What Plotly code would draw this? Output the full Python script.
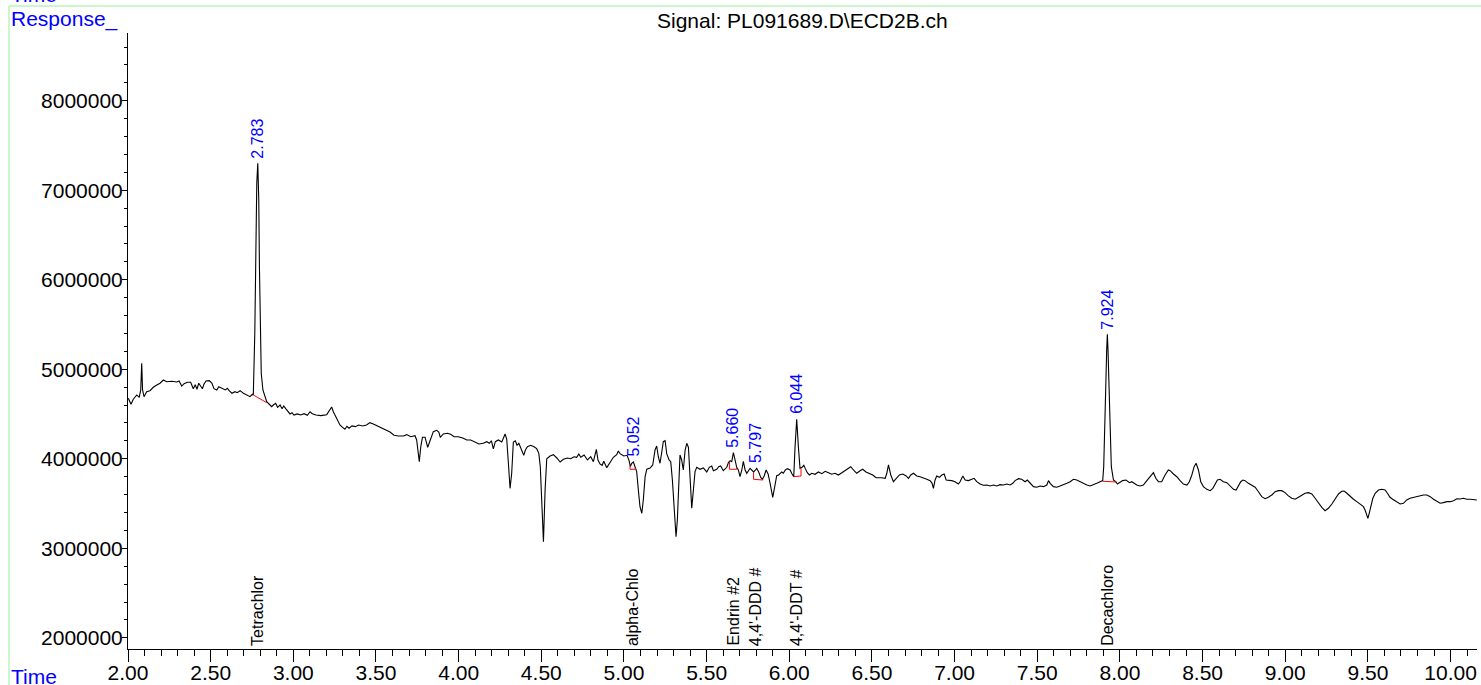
import plotly.graph_objects as go

# ---------------- data ----------------
time_min = [
    2.002, 2.018, 2.032, 2.053, 2.068, 2.077, 2.083, 2.088, 2.097, 2.113,
    2.133, 2.153, 2.174, 2.194, 2.214, 2.234, 2.264, 2.295, 2.309, 2.325,
    2.339, 2.359, 2.379, 2.395, 2.407, 2.417, 2.428, 2.440, 2.450, 2.460,
    2.472, 2.492, 2.508, 2.520, 2.537, 2.549, 2.569, 2.589, 2.601, 2.613,
    2.629, 2.647, 2.661, 2.678, 2.698, 2.722, 2.738, 2.752,
    2.758, 2.767, 2.773, 2.779, 2.785, 2.791, 2.795, 2.800, 2.806, 2.816, 2.839,
    2.859, 2.869, 2.879, 2.893, 2.905, 2.920, 2.932, 2.942, 2.954, 2.966,
    2.980, 2.992, 3.004, 3.024, 3.045, 3.065, 3.085, 3.101, 3.115, 3.137,
    3.166, 3.202, 3.222, 3.232, 3.242, 3.262, 3.282, 3.298, 3.312, 3.324,
    3.337, 3.355, 3.375, 3.395, 3.419, 3.443, 3.463, 3.484, 3.508, 3.544,
    3.585, 3.609, 3.635, 3.666, 3.686, 3.710, 3.736, 3.746, 3.756, 3.762,
    3.771, 3.781, 3.797, 3.813, 3.827, 3.847, 3.867, 3.880, 3.889, 3.907,
    3.932, 3.952, 3.972, 3.998, 4.025, 4.049, 4.073, 4.099, 4.123,
    4.149, 4.170, 4.186, 4.198, 4.210, 4.222, 4.240, 4.261, 4.281, 4.291,
    4.301, 4.311, 4.321, 4.331, 4.343, 4.353, 4.364, 4.373, 4.385, 4.394,
    4.404, 4.416, 4.436, 4.456, 4.472, 4.485, 4.494, 4.503, 4.513, 4.523,
    4.533, 4.553, 4.573, 4.594, 4.614, 4.634, 4.658, 4.678, 4.698, 4.714,
    4.727, 4.739, 4.759, 4.779, 4.799, 4.815, 4.825, 4.833, 4.843, 4.855,
    4.868, 4.878, 4.896, 4.908, 4.920, 4.936, 4.956, 4.966, 4.978, 4.999,
    5.019, 5.031, 5.039, 5.047, 5.057, 5.067, 5.077, 5.087, 5.097, 5.108,
    5.117, 5.128, 5.138, 5.158, 5.174, 5.188, 5.198, 5.208, 5.218, 5.228,
    5.238, 5.249, 5.259, 5.273, 5.283, 5.293, 5.303, 5.315, 5.323, 5.331,
    5.339, 5.349, 5.359, 5.370, 5.380, 5.390, 5.400, 5.410, 5.420, 5.430,
    5.440, 5.460, 5.480, 5.501, 5.516, 5.531, 5.541, 5.561, 5.573, 5.585,
    5.601, 5.622, 5.632, 5.642, 5.652, 5.662, 5.672, 5.682, 5.692, 5.702,
    5.713, 5.722, 5.733, 5.743, 5.763, 5.784, 5.796, 5.803, 5.815, 5.827,
    5.837, 5.848, 5.860, 5.872, 5.884, 5.894, 5.900, 5.912, 5.924, 5.936,
    5.954, 5.964, 5.976, 5.989, 6.005, 6.017, 6.027, 6.035, 6.045, 6.055,
    6.065, 6.077, 6.088, 6.097, 6.109, 6.122, 6.136, 6.156, 6.176, 6.197,
    6.217, 6.237, 6.257, 6.277, 6.297, 6.318, 6.338, 6.358, 6.372, 6.388,
    6.408, 6.428, 6.444, 6.464, 6.485, 6.505, 6.525, 6.549,
    6.560, 6.580, 6.590, 6.600, 6.614, 6.630, 6.646, 6.666, 6.687, 6.707,
    6.721, 6.735, 6.751, 6.771, 6.791, 6.811, 6.832, 6.852, 6.864, 6.872,
    6.882, 6.892, 6.908, 6.923, 6.937, 6.949, 6.962, 6.983, 7.003, 7.023,
    7.033, 7.050, 7.064, 7.084, 7.104, 7.118, 7.134, 7.154, 7.174, 7.195,
    7.215, 7.235, 7.255, 7.275, 7.295, 7.316, 7.336, 7.352, 7.366, 7.386,
    7.406, 7.426, 7.440, 7.457, 7.477, 7.497, 7.517, 7.537, 7.558, 7.568,
    7.578, 7.598, 7.618, 7.638, 7.658, 7.679, 7.699, 7.719, 7.739, 7.759,
    7.779, 7.800, 7.820, 7.840, 7.860, 7.880, 7.896,
    7.902, 7.909, 7.915, 7.920, 7.924, 7.928, 7.934, 7.940, 7.948, 7.961,
    7.975, 7.985, 8.001, 8.017, 8.037, 8.058, 8.072, 8.088, 8.102, 8.122,
    8.142, 8.163, 8.183, 8.203, 8.217, 8.233, 8.253, 8.273, 8.293,
    8.304, 8.324, 8.344, 8.364, 8.384, 8.405, 8.420, 8.435, 8.449, 8.461,
    8.475, 8.489, 8.505, 8.526, 8.546, 8.562, 8.576, 8.590, 8.606, 8.626,
    8.647, 8.667, 8.687, 8.703, 8.717, 8.731, 8.744, 8.757, 8.777, 8.798,
    8.818, 8.838, 8.858, 8.878, 8.898, 8.919, 8.939, 8.959, 8.979, 8.999,
    9.019, 9.040, 9.060, 9.080, 9.100, 9.120, 9.140, 9.161, 9.181, 9.201,
    9.221, 9.241, 9.261, 9.282, 9.302, 9.322, 9.342, 9.356, 9.373, 9.393,
    9.413, 9.433, 9.453, 9.473, 9.483, 9.494, 9.500, 9.508, 9.518, 9.530,
    9.544, 9.564, 9.584, 9.604, 9.618, 9.634, 9.650, 9.674, 9.695, 9.715,
    9.735, 9.755, 9.776, 9.796, 9.816, 9.836, 9.857, 9.877, 9.897, 9.917,
    9.937, 9.957, 9.977, 9.998, 10.018, 10.038, 10.058, 10.078, 10.098, 10.119,
    10.139, 10.159,
]

response = [
    4676000, 4609000, 4665000, 4713000, 4687000, 4769000, 5067000, 4769000, 4694000, 4750000,
    4761000, 4799000, 4825000, 4844000, 4880000, 4861000, 4866000, 4858000, 4869000, 4813000,
    4839000, 4855000, 4855000, 4783000, 4828000, 4777000, 4844000, 4806000, 4783000, 4836000,
    4869000, 4873000, 4844000, 4783000, 4769000, 4806000, 4783000, 4769000, 4788000, 4758000,
    4732000, 4750000, 4739000, 4761000, 4732000, 4713000, 4694000, 4721000,
    4713000, 5402000, 6333000, 7078000, 7302000, 6892000, 6146000, 5402000, 4955000, 4769000, 4638000,
    4601000, 4582000, 4601000, 4620000, 4575000, 4601000, 4560000, 4590000, 4560000, 4537000,
    4501000, 4515000, 4489000, 4501000, 4489000, 4504000, 4486000, 4526000, 4504000, 4489000,
    4482000, 4493000, 4545000, 4579000, 4526000, 4448000, 4378000, 4352000, 4330000, 4363000,
    4341000, 4367000, 4359000, 4378000, 4367000, 4378000, 4404000, 4389000, 4367000, 4330000,
    4299000, 4263000, 4255000, 4255000, 4270000, 4247000, 4258000, 4210000, 4061000, 3968000,
    4135000, 4240000, 4240000, 4128000, 4202000, 4303000, 4318000, 4299000, 4240000, 4277000,
    4285000, 4274000, 4247000, 4247000, 4232000, 4210000, 4210000, 4191000, 4165000,
    4173000, 4191000, 4173000, 4202000, 4110000, 4191000, 4210000, 4188000, 4277000, 4218000,
    3950000, 3670000, 3838000, 4188000, 4202000, 4151000, 4173000, 4135000, 4091000, 4039000,
    4098000, 4135000, 4151000, 4135000, 4113000, 4061000, 3912000, 3540000, 3074000, 3651000,
    4001000, 4031000, 4046000, 4009000, 3964000, 3994000, 4009000, 4001000, 4023000, 4017000,
    4054000, 4017000, 4042000, 3987000, 4023000, 3968000, 4042000, 4106000, 3987000, 3942000,
    3927000, 3972000, 3901000, 3934000, 3975000, 4017000, 4046000, 4087000, 4054000, 4031000,
    4039000, 3979000, 3912000, 3950000, 3964000, 3905000, 3856000, 3651000, 3465000, 3391000,
    3540000, 3800000, 3883000, 3897000, 3931000, 4098000, 4143000, 4023000, 3950000, 4068000,
    4191000, 4202000, 4054000, 3987000, 3968000, 3763000, 3428000, 3130000, 3316000, 3763000,
    4042000, 3987000, 3875000, 4098000, 4173000, 4128000, 3763000, 3447000, 3651000, 3856000,
    3905000, 3883000, 3897000, 3853000, 3905000, 3920000, 3867000, 3883000, 3912000, 3920000,
    3867000, 3905000, 3957000, 3979000, 3968000, 4068000, 3987000, 3905000, 3875000, 3800000,
    3875000, 3972000, 3875000, 3838000, 3894000, 3853000, 3875000, 3894000, 3853000, 3793000,
    3771000, 3808000, 3875000, 3830000, 3726000, 3615000, 3570000, 3688000, 3811000, 3819000,
    3853000, 3838000, 3875000, 3890000, 3875000, 3830000, 3800000, 4135000, 4441000, 4135000,
    3894000, 3905000, 3927000, 3890000, 3845000, 3819000, 3838000, 3827000, 3853000, 3834000,
    3860000, 3845000, 3827000, 3838000, 3819000, 3845000, 3867000, 3894000, 3912000, 3875000,
    3838000, 3867000, 3883000, 3853000, 3838000, 3819000, 3789000, 3793000,
    3789000, 3782000, 3838000, 3931000, 3819000, 3744000, 3782000, 3819000, 3830000, 3808000,
    3782000, 3819000, 3838000, 3808000, 3800000, 3782000, 3771000, 3756000, 3726000, 3670000,
    3763000, 3808000, 3793000, 3819000, 3830000, 3763000, 3763000, 3756000, 3744000, 3718000,
    3744000, 3808000, 3763000, 3756000, 3771000, 3782000, 3744000, 3718000, 3704000, 3707000,
    3696000, 3707000, 3696000, 3711000, 3707000, 3718000, 3707000, 3726000, 3756000, 3778000,
    3771000, 3744000, 3763000, 3726000, 3689000, 3682000, 3696000, 3689000, 3707000, 3756000,
    3726000, 3689000, 3682000, 3696000, 3707000, 3726000, 3744000, 3771000, 3763000, 3744000,
    3718000, 3707000, 3696000, 3707000, 3726000, 3744000, 3756000,
    3912000, 4285000, 4844000, 5216000, 5391000, 5216000, 4844000, 4285000, 3912000, 3763000,
    3744000, 3718000, 3733000, 3756000, 3763000, 3733000, 3744000, 3726000, 3707000, 3696000,
    3707000, 3756000, 3800000, 3845000, 3782000, 3744000, 3744000, 3819000, 3875000,
    3867000, 3830000, 3800000, 3756000, 3718000, 3707000, 3744000, 3819000, 3912000, 3950000,
    3875000, 3744000, 3689000, 3659000, 3644000, 3670000, 3726000, 3763000, 3771000, 3744000,
    3733000, 3696000, 3659000, 3651000, 3707000, 3744000, 3763000, 3756000, 3726000, 3707000,
    3682000, 3632000, 3577000, 3554000, 3570000, 3596000, 3632000, 3644000, 3644000, 3622000,
    3585000, 3559000, 3548000, 3570000, 3596000, 3615000, 3622000, 3607000, 3559000, 3503000,
    3458000, 3420000, 3447000, 3495000, 3559000, 3607000, 3637000, 3640000, 3615000, 3577000,
    3548000, 3521000, 3495000, 3465000, 3428000, 3372000, 3335000, 3391000, 3484000, 3559000,
    3615000, 3651000, 3659000, 3651000, 3615000, 3570000, 3548000, 3521000, 3495000, 3503000,
    3540000, 3559000, 3570000, 3577000, 3585000, 3596000, 3596000, 3577000, 3548000, 3521000,
    3503000, 3510000, 3521000, 3521000, 3532000, 3554000, 3551000, 3559000, 3548000, 3548000,
    3548000, 3540000,
]

# integrated peaks: retention time label, apex response
peak_rt = [2.783, 5.052, 5.660, 5.797, 6.044, 7.924]
peak_labels = ["2.783", "5.052", "5.660", "5.797", "6.044", "7.924"]
peak_apex = [7302000, 3964000, 4068000, 3894000, 4441000, 5391000]

# integration baselines (red)
baseline_t = [
    [2.758, 2.839],
    [5.037, 5.037, 5.068, 5.068],
    [5.638, 5.638, 5.682, 5.682],
    [5.784, 5.784, 5.840, 5.840],
    [6.025, 6.071, 6.071],
    [7.896, 7.977],
]
baseline_v = [
    [4713000, 4627000],
    [3931000, 3883000, 3883000, 3905000],
    [3968000, 3883000, 3883000, 3905000],
    [3853000, 3771000, 3763000, 3771000],
    [3800000, 3808000, 3894000],
    [3749000, 3741000],
]

# compound names
compound_rt = [2.783, 5.052, 5.660, 5.797, 6.044, 7.924]
compound_names = ["Tetrachlor", "alpha-Chlo", "Endrin #2", "4,4'-DDD #", "4,4'-DDT #", "Decachloro"]

title_text = "Signal: PL091689.D\\ECD2B.ch"

# ---------------- figure ----------------
FONT = "Liberation Sans, Arial, sans-serif"
BLUE = "#0000ff"

fig = go.Figure()
fig.add_trace(go.Scatter(x=time_min, y=response, mode="lines",
                         line=dict(color="black", width=1.1), hoverinfo="skip"))
for bt, bv in zip(baseline_t, baseline_v):
    fig.add_trace(go.Scatter(x=bt, y=bv, mode="lines",
                             line=dict(color="red", width=1), hoverinfo="skip"))

ann = []
for rt, txt, ap in zip(peak_rt, peak_labels, peak_apex):
    ann.append(dict(x=rt, y=ap, xref="x", yref="y", text=txt, showarrow=False,
                    textangle=-90, xanchor="center", yanchor="bottom", yshift=3,
                    font=dict(family=FONT, size=16, color=BLUE)))
for rt, name in zip(compound_rt, compound_names):
    ann.append(dict(x=rt, y=0, xref="x", yref="paper", text=name, showarrow=False,
                    textangle=-90, xanchor="center", yanchor="bottom", yshift=1,
                    font=dict(family=FONT, size=16, color="black")))

ann.append(dict(x=(802 - 128) / 1349, y=(649 - 20) / 616, xref="paper", yref="paper",
                text=title_text, showarrow=False, xanchor="center", yanchor="middle",
                font=dict(family=FONT, size=21, color="black")))
ann.append(dict(x=(9 - 128) / 1349, y=(649 - 19.5) / 616, xref="paper", yref="paper",
                text="Response_", showarrow=False, xanchor="left", yanchor="middle",
                font=dict(family=FONT, size=21, color=BLUE)))
ann.append(dict(x=(9 - 128) / 1349, y=(649 - 676) / 616, xref="paper", yref="paper",
                text="Time", showarrow=False, xanchor="left", yanchor="middle",
                font=dict(family=FONT, size=21, color=BLUE)))
ann.append(dict(x=(9 - 128) / 1349, y=(649 + 6) / 616, xref="paper", yref="paper",
                text="Time", showarrow=False, xanchor="left", yanchor="middle",
                font=dict(family=FONT, size=21, color=BLUE)))

GREEN = "#98ec98"
shapes = [
    dict(type="line", xref="paper", yref="paper",
         x0=(9 - 128) / 1349, x1=(1481 - 128) / 1349,
         y0=(649 - 6) / 616, y1=(649 - 6) / 616,
         line=dict(color=GREEN, width=1)),
    dict(type="line", xref="paper", yref="paper",
         x0=(9 - 128) / 1349, x1=(9 - 128) / 1349,
         y0=(649 - 6) / 616, y1=(649 - 690) / 616,
         line=dict(color=GREEN, width=1)),
]

fig.update_layout(
    width=1481, height=685,
    margin=dict(l=128, r=4, t=33, b=36, pad=0, autoexpand=False),
    paper_bgcolor="white", plot_bgcolor="white",
    showlegend=False,
    annotations=ann, shapes=shapes,
    xaxis=dict(range=[2.0, 10.16], showline=True, linecolor="black", linewidth=1,
               automargin=False,
               ticks="outside", tickmode="linear", tick0=2.0, dtick=0.5,
               ticklen=12, tickwidth=1, tickcolor="black", tickformat=".2f",
               ticklabelstandoff=-7,
               showgrid=False, zeroline=False,
               tickfont=dict(family=FONT, size=21, color="black"),
               minor=dict(dtick=0.1, tick0=2.0, ticks="outside", ticklen=6,
                          tickcolor="black", tickwidth=1, showgrid=False)),
    yaxis=dict(range=[1875000, 8757000], showline=True, linecolor="black", linewidth=1,
               automargin=False,
               ticks="outside", tickmode="linear", tick0=0, dtick=1000000,
               ticklen=5, tickwidth=1, tickcolor="black", tickformat="d",
               ticklabelstandoff=-5,
               showgrid=False, zeroline=False,
               tickfont=dict(family=FONT, size=21, color="black"),
               minor=dict(dtick=200000, ticks="outside", ticklen=3,
                          tickcolor="black", tickwidth=1, showgrid=False)),
)

fig.write_html("out.html", config={"displayModeBar": False},
               post_script="document.body.style.margin='0';document.body.style.overflow='hidden';")
